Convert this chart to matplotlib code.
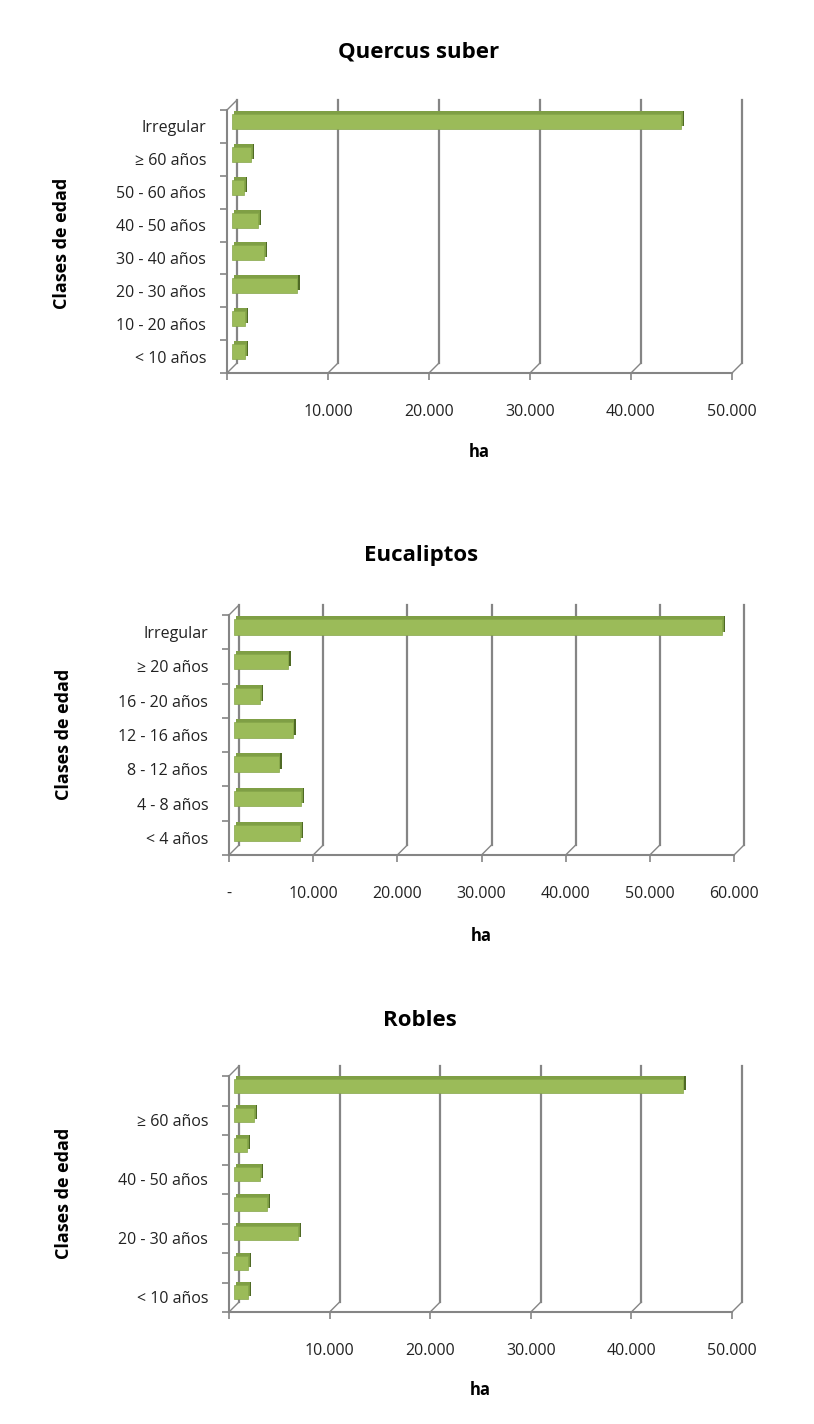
import matplotlib
matplotlib.use("Agg")
import matplotlib.pyplot as plt
from matplotlib.transforms import ScaledTranslation
import numpy as np

# ---------------- data ----------------
quercus_labels = ["< 10 años", "10 - 20 años", "20 - 30 años", "30 - 40 años",
                  "40 - 50 años", "50 - 60 años", "≥ 60 años", "Irregular"]
quercus_values = [1300, 1300, 6400, 3200, 2600, 1200, 1900, 44500]
quercus_ticks = [0, 10000, 20000, 30000, 40000, 50000]
quercus_ticklabels = ["", "10.000", "20.000", "30.000", "40.000", "50.000"]

eucal_labels = ["< 4 años", "4 - 8 años", "8 - 12 años", "12 - 16 años",
                "16 - 20 años", "≥ 20 años", "Irregular"]
eucal_values = [7900, 8000, 5300, 7000, 3100, 6400, 58000]
eucal_ticks = [0, 10000, 20000, 30000, 40000, 50000, 60000]
eucal_ticklabels = ["-", "10.000", "20.000", "30.000", "40.000", "50.000", "60.000"]

robles_labels = ["< 10 años", "", "20 - 30 años", "", "40 - 50 años", "",
                 "≥ 60 años", ""]
robles_values = [1400, 1400, 6400, 3300, 2600, 1300, 2000, 44600]
robles_ticks = [0, 10000, 20000, 30000, 40000, 50000]
robles_ticklabels = ["", "10.000", "20.000", "30.000", "40.000", "50.000"]

# ---------------- style ----------------
W, H, DPI = 814, 1424, 100
FONT = "Open Sans"
plt.rcParams["font.family"] = [FONT, "DejaVu Sans"]
GREY = "#858585"
FACE = "#9bbb59"
EDGE = "#86a64a"
TOP = "#7f9f45"
SIDE = "#4f6a25"

fig = plt.figure(figsize=(W / DPI, H / DPI), dpi=DPI)
fig.patch.set_facecolor("white")


def px_rect(x, y, w, h):
    return [x / W, 1 - (y + h) / H, w / W, h / H]


def chart(rect, labels, values, ticks, ticklabels, title, title_y,
          ylab_xy, xlab_y, d=5):
    x0, y0, w, h = rect
    ax = fig.add_axes(px_rect(x0, y0, w, h))
    n = len(labels)
    xmax = ticks[-1]
    ax.set_xlim(0, xmax)
    ax.set_ylim(-0.5, n - 0.5)
    ax.patch.set_alpha(0)

    def shift(px_):
        return ax.transData + ScaledTranslation(px_ / DPI, px_ / DPI, fig.dpi_scale_trans)

    mid = shift(d)
    back = shift(2 * d)
    depth = 3

    # back wall gridlines
    for t in ticks:
        ax.plot([t, t], [-0.5, n - 0.5], color=GREY, lw=1.6, transform=back,
                clip_on=False, zorder=1)
    # floor connectors from front ticks to back wall
    dxd = 2 * d * xmax / w
    dyd = 2 * d * n / h
    for t in ticks:
        ax.plot([t, t + dxd], [-0.5, -0.5 + dyd], color=GREY, lw=1.0,
                clip_on=False, zorder=1)
    ax.plot([0, dxd], [n - 0.5, n - 0.5 + dyd], color=GREY, lw=1.0,
            clip_on=False, zorder=1)

    y = np.arange(n)
    bh = 0.46
    # right-hand cap (darker) drawn as shifted bar
    cap = ax.barh(y, values, height=bh, color=SIDE, zorder=2)
    for p in cap.patches:
        p.set_transform(shift(d + depth))
        p.set_clip_on(False)
    # top face (medium green), shifted one pixel less to leave the cap visible
    top = ax.barh(y, values, height=bh, color=TOP, zorder=2.5)
    for p in top.patches:
        p.set_transform(ax.transData + ScaledTranslation((d + depth - 1.5) / DPI,
                                                         (d + depth) / DPI,
                                                         fig.dpi_scale_trans))
        p.set_clip_on(False)
    fr = ax.barh(y, values, height=bh, color=FACE, edgecolor=EDGE,
                 lw=0.5, zorder=3)
    for p in fr.patches:
        p.set_transform(mid)
        p.set_clip_on(False)

    for s in ["top", "right"]:
        ax.spines[s].set_visible(False)
    for s in ["left", "bottom"]:
        ax.spines[s].set_color(GREY)
        ax.spines[s].set_linewidth(1.5)

    ax.set_xticks(ticks)
    ax.set_xticklabels(ticklabels, fontsize=11.5, color="#222222")
    ax.tick_params(axis="x", direction="out", length=5, width=1.2,
                   color=GREY, pad=17)
    ax.set_yticks(y)
    ax.set_yticklabels(labels, fontsize=11.5, color="#222222")
    ax.set_yticks(np.arange(-0.5, n, 1.0), minor=True)
    ax.tick_params(axis="y", which="major", length=0, pad=15)
    ax.tick_params(axis="y", which="minor", direction="out", length=5,
                   width=1.2, color=GREY)

    fig.text(x0 / W + w / W * 0.38, 1 - title_y / H, title, ha="center",
             va="center", fontsize=16, fontweight="bold")
    fig.text(ylab_xy[0] / W, 1 - ylab_xy[1] / H, "Clases de edad",
             rotation=90, ha="center", va="center", fontsize=13,
             fontweight="bold")
    fig.text((x0 + w / 2) / W, 1 - xlab_y / H, "ha", ha="center",
             va="center", fontsize=12, fontweight="bold")
    return ax


chart((227, 110, 505, 263), quercus_labels, quercus_values, quercus_ticks,
      quercus_ticklabels, "Quercus suber", 52, (62, 243), 452)
chart((229, 615, 505, 240), eucal_labels, eucal_values, eucal_ticks,
      eucal_ticklabels, "Eucaliptos", 556, (64, 734), 936)
chart((229, 1076, 503, 236), robles_labels, robles_values, robles_ticks,
      robles_ticklabels, "Robles", 1020, (64, 1193), 1390)

fig.savefig("out.png", dpi=DPI, facecolor="white")
